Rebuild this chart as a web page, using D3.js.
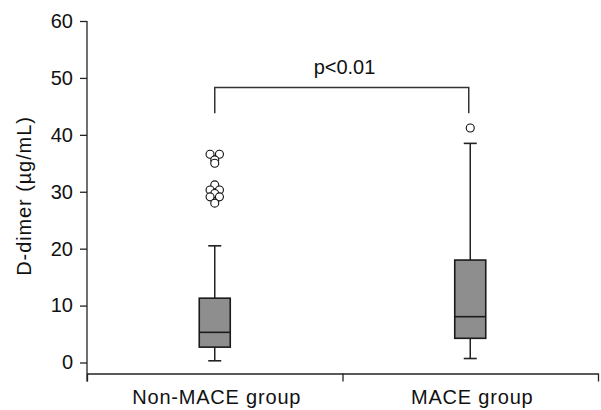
<!DOCTYPE html>
<html>
<head>
<meta charset="utf-8">
<script src="https://cdn.jsdelivr.net/npm/d3@7/dist/d3.min.js"></script>
<style>
  body { margin: 0; background: #fff; }
  text { font-family: Arial, "Liberation Sans", sans-serif; fill: #111; }
</style>
</head>
<body>
<div id="chart"></div>
<script>
// box plot values (D-dimer, ug/mL)
var groups = ["Non-MACE group", "MACE group"];
var whiskerLow = [0.3, 0.7];
var q1 = [2.7, 4.25];
var median = [5.3, 8.05];
var q3 = [11.3, 18.0];
var whiskerHigh = [20.5, 38.5];
var outliers = [
    [36.6, 36.6, 35.6, 35.0, 31.2, 30.3, 30.3, 29.7, 29.1, 29.1, 28.0],
    [41.2]
];
var yTicks = [0, 10, 20, 30, 40, 50, 60];
var bracketTop = 48.3, bracketLeg = 43.8;
var pLabel = "p<0.01";
var yTitle = "D-dimer (\u00b5g/mL)";

var width = 601, height = 410;
var left = 87, right = 598, bottomY = 373.5;

var svg = d3.select("#chart").append("svg")
    .attr("width", width)
    .attr("height", height);

var y = d3.scaleLinear().domain([0, 60]).range([362.5, 21]);
var x = d3.scaleBand().domain(groups).range([left, right]).padding(0);
var cx = function(i) { return x(groups[i]) + x.bandwidth() / 2; };

var boxW = 31, capW = 13, r = 4;

// y axis
var yAxis = d3.axisLeft(y).tickValues(yTicks).tickSize(7).tickPadding(7).tickSizeOuter(0);
var gy = svg.append("g").attr("transform", "translate(" + left + ",0)").call(yAxis);
gy.select(".domain").remove();
gy.selectAll("line").attr("stroke", "#222").attr("stroke-width", 1.3);
gy.selectAll("text").style("font-size", "20px").attr("fill", "#111");
svg.append("line")
    .attr("x1", left).attr("x2", left)
    .attr("y1", y(60)).attr("y2", bottomY + 8)
    .attr("stroke", "#222").attr("stroke-width", 1.3);

// x axis: boundary ticks, labels at band centres
var xb = d3.scaleLinear().domain([0, groups.length]).range([left, right]);
var xAxis = d3.axisBottom(xb).ticks(groups.length).tickSize(8).tickSizeOuter(0).tickFormat("");
var gx = svg.append("g").attr("transform", "translate(0," + bottomY + ")").call(xAxis);
gx.select(".domain").attr("stroke", "#222").attr("stroke-width", 1.3);
gx.selectAll("line").attr("stroke", "#222").attr("stroke-width", 1.3);

svg.selectAll("text.cat")
    .data(groups)
    .enter().append("text")
    .attr("class", "cat")
    .attr("x", function(d, i) { return cx(i) + 2; })
    .attr("y", 404)
    .attr("text-anchor", "middle")
    .style("font-size", "20px")
    .style("letter-spacing", "0.8px")
    .text(function(d) { return d; });

svg.append("text")
    .attr("transform", "translate(31,196) rotate(-90)")
    .attr("text-anchor", "middle")
    .style("font-size", "20px")
    .style("letter-spacing", "0.9px")
    .text(yTitle);

// boxes
var box = svg.selectAll("g.box")
    .data(groups)
    .enter().append("g")
    .attr("class", "box");

box.append("line")
    .attr("x1", function(d, i) { return cx(i); })
    .attr("x2", function(d, i) { return cx(i); })
    .attr("y1", function(d, i) { return y(whiskerLow[i]); })
    .attr("y2", function(d, i) { return y(whiskerHigh[i]); })
    .attr("stroke", "#222").attr("stroke-width", 1.5);

[whiskerLow, whiskerHigh].forEach(function(arr) {
    box.append("line")
        .attr("x1", function(d, i) { return cx(i) - capW / 2; })
        .attr("x2", function(d, i) { return cx(i) + capW / 2; })
        .attr("y1", function(d, i) { return y(arr[i]); })
        .attr("y2", function(d, i) { return y(arr[i]); })
        .attr("stroke", "#222").attr("stroke-width", 1.6);
});

box.append("rect")
    .attr("x", function(d, i) { return cx(i) - boxW / 2; })
    .attr("y", function(d, i) { return y(q3[i]); })
    .attr("width", boxW)
    .attr("height", function(d, i) { return y(q1[i]) - y(q3[i]); })
    .attr("fill", "#8e8e8e")
    .attr("stroke", "#1a1a1a").attr("stroke-width", 1.6);

box.append("line")
    .attr("x1", function(d, i) { return cx(i) - boxW / 2; })
    .attr("x2", function(d, i) { return cx(i) + boxW / 2; })
    .attr("y1", function(d, i) { return y(median[i]); })
    .attr("y2", function(d, i) { return y(median[i]); })
    .attr("stroke", "#1a1a1a").attr("stroke-width", 1.6);

// outliers: equal values sit side by side
outliers.forEach(function(vals, i) {
    var counts = d3.rollup(vals, function(v) { return v.length; }, function(v) { return v; });
    var seen = new Map();
    var pts = vals.map(function(v) {
        var n = counts.get(v), k = seen.get(v) || 0;
        seen.set(v, k + 1);
        return { v: v, dx: (k - (n - 1) / 2) * 9.4 };
    });
    svg.selectAll(null)
        .data(pts)
        .enter().append("circle")
        .attr("cx", function(d) { return cx(i) + d.dx; })
        .attr("cy", function(d) { return y(d.v); })
        .attr("r", r)
        .attr("fill", "#fff")
        .attr("stroke", "#111").attr("stroke-width", 1.1);
});

// significance bracket
var bracket = d3.line();
svg.append("path")
    .attr("d", bracket([
        [cx(0), y(bracketLeg)], [cx(0), y(bracketTop)],
        [cx(1) - 1.5, y(bracketTop)], [cx(1) - 1.5, y(bracketLeg)]
    ]))
    .attr("fill", "none")
    .attr("stroke", "#333").attr("stroke-width", 1.5);

svg.append("text")
    .attr("x", (cx(0) + cx(1)) / 2 + 2)
    .attr("y", y(bracketTop) - 14)
    .attr("text-anchor", "middle")
    .style("font-size", "20px")
    .text(pLabel);
</script>
</body>
</html>
